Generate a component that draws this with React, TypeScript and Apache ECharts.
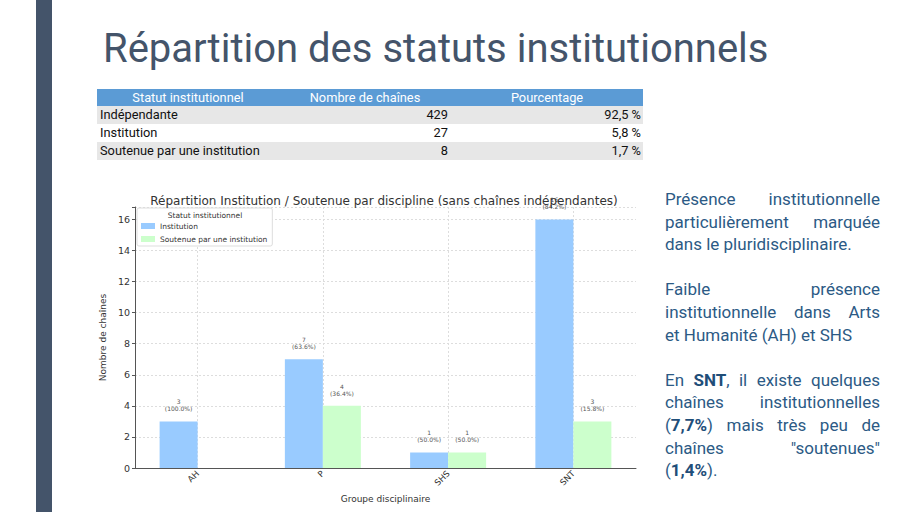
import React, { useEffect, useRef } from 'react';
import * as echarts from 'echarts';

// données du graphique
const categories = ['AH', 'P', 'SHS', 'SNT'];
const institution = [3, 7, 1, 16];
const soutenue = [0, 4, 1, 3];

// données du tableau
const statuts = ['Indépendante', 'Institution', 'Soutenue par une institution'];
const nombres = [429, 27, 8];
const pourcentages = ['92,5 %', '5,8 %', '1,7 %'];

const SLATE = '#44546a';
const TEXT_BLUE = '#2c5a85';

const BarChart: React.FC = () => {
  const chartRef = useRef<HTMLDivElement>(null);

  useEffect(() => {
    if (!chartRef.current) return;
    const chart = echarts.init(chartRef.current, undefined, { renderer: 'svg' });

    // étiquette "n (xx.x%)" au-dessus de chaque barre, rien pour 0
    const labelFor = (p: any) => {
      const v = Number(p.value);
      if (v === 0) return '';
      const total = institution[p.dataIndex] + soutenue[p.dataIndex];
      return `${v}\n(${((v / total) * 100).toFixed(1)}%)`;
    };

    const font = 'DejaVu Sans, sans-serif';

    const barLabel = {
      show: true,
      position: 'top' as const,
      distance: 9,
      fontSize: 6,
      lineHeight: 7,
      color: '#555',
      formatter: labelFor
    };

    const option: echarts.EChartsOption = {
      animation: false,
      textStyle: { fontFamily: font },
      // titre centré sur la zone de tracé (div symétrique autour d'elle)
      title: {
        text: 'Répartition Institution / Soutenue par discipline (sans chaînes indépendantes)',
        left: 'center',
        top: 10,
        textStyle: { fontSize: 12, fontWeight: 'normal', color: '#333', fontFamily: font }
      },
      legend: {
        data: ['Institution', 'Soutenue par une institution'],
        orient: 'vertical',
        left: 47,
        top: 28,
        padding: [14, 5, 3, 4],
        itemWidth: 14,
        itemHeight: 6,
        itemGap: 5,
        icon: 'rect',
        borderColor: '#ddd',
        borderWidth: 1,
        borderRadius: 2,
        backgroundColor: '#fff',
        textStyle: { fontSize: 7.5, color: '#333', fontFamily: font }
      },
      graphic: [
        {
          type: 'text',
          x: 115,
          y: 35,
          z: 100,
          style: {
            text: 'Statut institutionnel',
            fontSize: 7.5,
            fill: '#333',
            fontFamily: font,
            textAlign: 'center',
            textVerticalAlign: 'middle'
          }
        }
      ],
      grid: { left: 42, right: 42, top: 27, bottom: 44 },
      xAxis: {
        type: 'category',
        data: categories,
        name: 'Groupe disciplinaire',
        nameLocation: 'middle',
        nameGap: 26,
        nameTextStyle: { fontSize: 9, color: '#333' },
        axisLine: { lineStyle: { color: '#555' } },
        axisTick: { alignWithLabel: true, length: 3, lineStyle: { color: '#555' } },
        axisLabel: { rotate: 45, fontSize: 8.5, color: '#333', margin: 4 },
        splitLine: {
          show: true,
          alignWithLabel: true,
          lineStyle: { color: '#ddd', type: [2, 2] }
        } as any
      },
      yAxis: {
        type: 'value',
        min: 0,
        max: 16.8,
        interval: 2,
        name: 'Nombre de chaînes',
        nameLocation: 'middle',
        nameGap: 18,
        nameTextStyle: { fontSize: 9, color: '#333' },
        axisLine: { show: true, lineStyle: { color: '#555' } },
        axisTick: { show: true, length: 3, lineStyle: { color: '#555' } },
        axisLabel: {
          fontSize: 9.5,
          color: '#333',
          margin: 5,
          formatter: (v: number) => (v % 2 === 0 ? String(v) : '')
        },
        splitLine: { lineStyle: { color: '#ddd', type: [2, 2] } }
      },
      series: [
        {
          name: 'Institution',
          type: 'bar',
          data: institution,
          barWidth: 38,
          barGap: '0%',
          itemStyle: { color: '#99cbff' },
          label: barLabel
        },
        {
          name: 'Soutenue par une institution',
          type: 'bar',
          data: soutenue,
          barWidth: 38,
          barGap: '0%',
          itemStyle: { color: '#ccffcc' },
          label: barLabel
        }
      ]
    };

    chart.setOption(option);
    return () => chart.dispose();
  }, []);

  return (
    <div
      ref={chartRef}
      style={{ position: 'absolute', left: 90, top: 180, width: 588, height: 332 }}
    />
  );
};

const JLine: React.FC<{ last?: boolean; children: React.ReactNode }> = ({ last, children }) => (
  <div
    style={{
      textAlign: last ? 'left' : 'justify',
      textAlignLast: last ? 'left' : 'justify',
      whiteSpace: 'nowrap'
    } as React.CSSProperties}
  >
    {children}
  </div>
);

const B: React.FC<{ children: React.ReactNode }> = ({ children }) => (
  <b style={{ color: '#1f4e79' }}>{children}</b>
);

const App: React.FC = () => {
  const cell: React.CSSProperties = { padding: '0 3px', height: 18, lineHeight: '18px' };
  const head: React.CSSProperties = { ...cell, height: 17, lineHeight: '17px', fontWeight: 'normal' };
  return (
    <div
      style={{
        position: 'fixed',
        left: 0,
        top: 0,
        width: 910,
        height: 512,
        background: '#fff',
        overflow: 'hidden',
        fontFamily: 'Roboto, sans-serif'
      }}
    >
      <div style={{ position: 'absolute', left: 36, top: 0, width: 16, height: 512, background: SLATE }} />
      <div
        style={{
          position: 'absolute',
          left: 103,
          top: 25,
          fontSize: 40,
          color: SLATE,
          lineHeight: '48px',
          whiteSpace: 'nowrap'
        }}
      >
        Répartition des statuts institutionnels
      </div>

      <table
        style={{
          position: 'absolute',
          left: 97,
          top: 89,
          width: 546,
          borderCollapse: 'collapse',
          fontSize: 12.8,
          color: '#111',
          tableLayout: 'fixed'
        }}
      >
        <thead>
          <tr style={{ background: '#5b9bd5', color: '#fff' }}>
            <th style={{ ...head, width: 176 }}>Statut institutionnel</th>
            <th style={{ ...head, width: 166 }}>Nombre de chaînes</th>
            <th style={head}>Pourcentage</th>
          </tr>
        </thead>
        <tbody>
          {statuts.map((s, i) => (
            <tr key={s} style={{ background: i % 2 === 0 ? '#e7e7e7' : '#fff' }}>
              <td style={{ ...cell, textAlign: 'left' }}>{s}</td>
              <td style={{ ...cell, textAlign: 'right' }}>{nombres[i]}</td>
              <td style={{ ...cell, textAlign: 'right', paddingRight: 2 }}>{pourcentages[i]}</td>
            </tr>
          ))}
        </tbody>
      </table>

      <BarChart />

      <div
        style={{
          position: 'absolute',
          left: 665,
          top: 188,
          width: 215,
          fontSize: 17,
          lineHeight: '22.6px',
          color: TEXT_BLUE
        }}
      >
        <JLine>Présence institutionnelle</JLine>
        <JLine>particulièrement marquée</JLine>
        <JLine last>dans le pluridisciplinaire.</JLine>
        <div style={{ height: 22.6 }} />
        <JLine>Faible présence</JLine>
        <JLine>institutionnelle dans Arts</JLine>
        <JLine last>et Humanité (AH) et SHS</JLine>
        <div style={{ height: 22.6 }} />
        <JLine>
          En <B>SNT</B>, il existe quelques
        </JLine>
        <JLine>chaînes institutionnelles</JLine>
        <JLine>
          (<B>7,7%</B>) mais très peu de
        </JLine>
        <JLine>chaînes "soutenues"</JLine>
        <JLine last>
          (<B>1,4%</B>).
        </JLine>
      </div>
    </div>
  );
};

export default App;
